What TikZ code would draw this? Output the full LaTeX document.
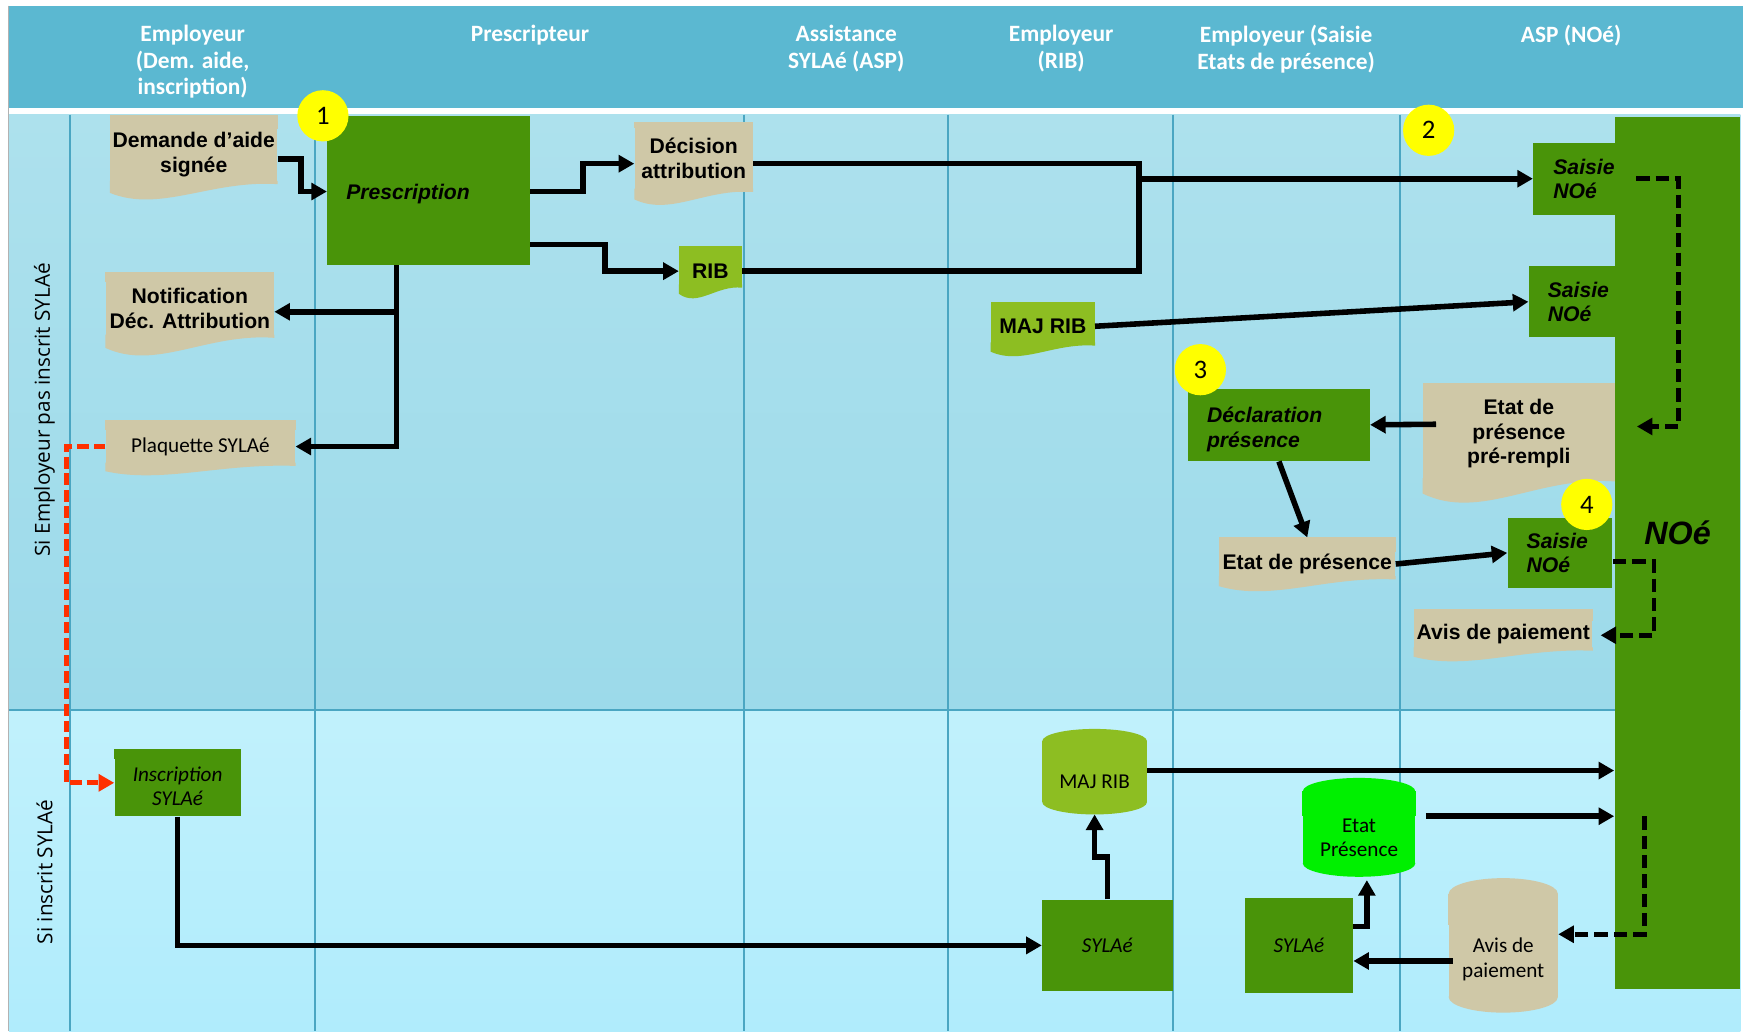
\documentclass[tikz,border=0pt]{standalone}
\usepackage{fontspec}
\setmainfont{Liberation Sans}
\newfontfamily\calibri{Carlito}
\newfontfamily\lanefont{Open Sans}
\usetikzlibrary{arrows.meta,calc}
\pgfdeclarelayer{back}
\pgfdeclarelayer{decor}
\pgfsetlayers{back,decor,main}

\definecolor{hdrblue}{RGB}{91,184,209}
\definecolor{lanetop}{RGB}{173,225,237}
\definecolor{lanemid}{RGB}{156,218,234}
\definecolor{lanebot}{RGB}{193,241,252}
\definecolor{lanelow}{RGB}{176,236,252}
\definecolor{sepline}{RGB}{74,166,194}
\definecolor{vert}{RGB}{73,148,9}
\definecolor{vertclair}{RGB}{141,190,34}
\definecolor{vertvif}{RGB}{0,240,0}
\definecolor{beige}{RGB}{207,200,167}
\definecolor{jaune}{RGB}{255,255,0}
\definecolor{rouge}{RGB}{255,48,0}

% strip of the same colour above a node
\newcommand{\topstrip}[3]{%
  \begin{pgfonlayer}{decor}
  \fill[#2] ($(#1.north west)+(0,3)$) rectangle ($(#1.north east)+(0,-#3)$);
  \end{pgfonlayer}}
% document shape: strip above the node and wavy bottom
\newcommand{\docwave}[4]{%
  \topstrip{#1}{#2}{#4}
  \begin{pgfonlayer}{decor}
  \fill[#2] ($(#1.south east)+(0,-3)$) -- ($(#1.south west)+(0,-3)$) -- ($(#1.south west)+(0,0.6*#3)$)
    .. controls ($(#1.south west)!0.3!(#1.south east)+(0,2*#3)$)
    and ($(#1.south west)!0.6!(#1.south east)+(0,-0.3*#3)$) .. (#1.south east) -- cycle;
  \end{pgfonlayer}}
% top and bottom of a cylinder
\newcommand{\cylcaps}[5]{%
  \topstrip{#1}{#2}{#5}
  \begin{pgfonlayer}{decor}
  \fill[#2] ($(#1.north)+(0,-#5)$) ellipse [x radius=#3pt, y radius=#4pt];
  \fill[#2] (#1.south) ellipse [x radius=#3pt, y radius=#4pt];
  \end{pgfonlayer}}

\tikzset{
  doc/.style={fill=#1, inner sep=0pt, align=center, font=\fontsize{9.5}{11}\selectfont\bfseries},
  doc/.default=beige,
  proc/.style={fill=vert, inner sep=0pt, align=left, font=\fontsize{9.5}{11}\selectfont\bfseries\itshape},
  sbox/.style={fill=vert, inner sep=0pt, align=center, font=\calibri\fontsize{9.5}{11}\selectfont\itshape},
  cyl/.style={fill=#1, inner sep=0pt, align=center, font=\calibri\fontsize{9.5}{11}\selectfont},
  num/.style={circle, fill=jaune, inner sep=0pt, minimum size=23pt, font=\calibri\fontsize{12}{12}\selectfont},
  hdr/.style={text=white, align=center, inner sep=0pt, anchor=north, font=\calibri\bfseries\fontsize{10.5}{12}\selectfont},
  lane/.style={rotate=90, inner sep=0pt, font=\lanefont\fontsize{9.3}{10}\selectfont},
  sep/.style={draw=sepline, line width=0.9pt},
  ln/.style={line width=2.5pt},
  arr/.style={ln, -{Triangle[length=7pt,width=7.5pt]}},
  darr/.style={arr, line width=2.2pt, dash pattern=on 6pt off 2.7pt},
  rarr/.style={arr, color=rouge, line width=2.1pt, dash pattern=on 5.2pt off 2.2pt}
}

\begin{document}
\begin{tikzpicture}[x=0.5pt, y=-0.5pt]
  \useasboundingbox (0,0) rectangle (1568,926);
  % header and lanes
  \begin{pgfonlayer}{back}
  \fill[white] (0,0) rectangle (1568,926);
  \fill[hdrblue] (8,5) rectangle (1565,97);
  \shade[top color=lanetop, bottom color=lanemid] (8,103) rectangle (1563,638);
  \shade[top color=lanebot, bottom color=lanelow] (8,638) rectangle (1563,926);
  \draw[sep] (8,638) -- (1563,638);
  \draw[gray!60] (8,5) -- (8,926);
  \foreach \x in {63,283,668,851,1053,1257}
    \draw[sep] (\x,103) -- (\x,926);
  \end{pgfonlayer}

  \node[hdr] (h1) at (173,22) {Employeur\\(Dem. aide,\\inscription)};
  \node[hdr] (h2) at (476,22) {Prescripteur};
  \node[hdr] (h3) at (760,22) {Assistance\\SYLAé (ASP)};
  \node[hdr] (h4) at (953,22) {Employeur\\(RIB)};
  \node[hdr] (h5) at (1155,22) {Employeur (Saisie\\Etats de présence)};
  \node[hdr] (h6) at (1411,22) {ASP (NOé)};

  \node[lane] (l1) at (40,368) {Si Employeur pas inscrit SYLAé};
  \node[lane] (l2) at (40,783) {Si inscrit SYLAé};

  % documents
  \node[doc, minimum width=75pt, minimum height=26pt] (demande) at (174,139) {Demande d’aide\\signée};
  \docwave{demande}{beige}{13}{9}
  \node[doc, minimum width=53pt, minimum height=30pt] (decision) at (623,142) {Décision\\attribution};
  \docwave{decision}{beige}{11}{2}
  \node[doc=vertclair, minimum width=28pt, minimum height=14.5pt] (rib) at (638,243.5) {RIB};
  \docwave{rib}{vertclair}{9}{8}
  \node[doc, minimum width=75.5pt, minimum height=26pt] (notif) at (170.5,277) {Notification\\Déc. Attribution};
  \docwave{notif}{beige}{15}{6}
  \node[doc, minimum width=85pt, minimum height=17pt, font=\calibri\fontsize{9.5}{11}\selectfont] (plaq) at (180,401) {Plaquette SYLAé};
  \docwave{plaq}{beige}{8}{6}
  \node[doc=vertclair, minimum width=46.5pt, minimum height=17pt] (majrib) at (936.5,293) {MAJ RIB};
  \docwave{majrib}{vertclair}{9}{4}
  \node[doc, minimum width=86pt, minimum height=42.5pt] (etatpre) at (1364,389.5) {Etat de\\présence\\pré-rempli};
  \docwave{etatpre}{beige}{18}{3}
  \node[doc, minimum width=79pt, minimum height=13.5pt] (etatp) at (1174,506.5) {Etat de présence};
  \docwave{etatp}{beige}{10}{10}
  \node[doc, minimum width=80pt, minimum height=14.5pt] (avis) at (1350,569.5) {Avis de paiement};
  \docwave{avis}{beige}{9}{8}

  % process boxes
  \node[proc, text width=74pt, inner xsep=8.5pt, minimum height=63.5pt] (prescr) at (385,174.5) {Prescription};
  \topstrip{prescr}{vert}{6}
  \node[proc, text width=64.5pt, inner xsep=8.5pt, minimum height=28.5pt] (decl) at (1148.5,385.5) {Déclaration\\présence};
  \topstrip{decl}{vert}{7}
  \node[fill=vert, inner sep=0pt, minimum width=56.5pt, minimum height=391.5pt, text depth=18pt,
        font=\fontsize{14.5}{16}\selectfont\bfseries\itshape] (noe) at (1506.5,496.5) {NOé};
  \node[proc, text width=28pt, inner xsep=9pt, minimum height=32.5pt] (saisie1) at (1423,160.5) {Saisie\\NOé};
  \node[proc, text width=28pt, inner xsep=8.5pt, minimum height=32pt] (saisie2) at (1418,271) {Saisie\\NOé};
  \node[proc, text width=30pt, inner xsep=8.5pt, minimum height=31.5pt] (saisie3) at (1401,496.5) {Saisie\\NOé};

  \node[sbox, minimum width=56.5pt, minimum height=27pt] (inscr) at (159.5,706) {Inscription\\SYLAé};
  \topstrip{inscr}{vert}{6}
  \node[sbox, minimum width=58.5pt, minimum height=41pt] (sylae1) at (994.5,849) {SYLAé};
  \node[sbox, minimum width=48.5pt, minimum height=43pt] (sylae2) at (1166.5,849) {SYLAé};

  % cylinders
  \node[cyl=vertclair, minimum width=47pt, minimum height=18pt] (majcyl) at (983,702) {MAJ RIB};
  \cylcaps{majcyl}{vertclair}{23.5}{5.5}{18}
  \node[cyl=vertvif, minimum width=50.5pt, minimum height=22.5pt] (etatcyl) at (1220.5,752.5) {Etat\\Présence};
  \cylcaps{etatcyl}{vertvif}{25.25}{6}{19}
  \node[cyl=beige, minimum width=49pt, minimum height=33.5pt] (aviscyl) at (1350,861.5) {Avis de\\paiement};
  \cylcaps{aviscyl}{beige}{24.5}{7}{25}

  % connectors, top lane
  \coordinate (jn) at (1023,160.5);
  \coordinate (noein) at (1470,383);
  \draw[arr] ($(demande.east)+(0,4)$) -- ++(21,0) |- ($(prescr.west)+(0,-2.5)$);
  \draw[arr] ($(prescr.east)+(0,-2.5)$) -- ++(47,0) |- ($(decision.west)+(0,5)$);
  \draw[arr] ($(prescr.south east)+(0,-19)$) -- ++(67,0) |- (rib.west);
  \draw[arr] ($(decision.east)+(0,5)$) -| (jn) -- (saisie1.west);
  \draw[ln] (rib.east) -| (jn);
  \draw[arr] ($(prescr.south)+(-29,0)$) |- ($(notif.east)+(0,3)$);
  \draw[arr] ($(prescr.south)+(-29,0)$) |- (plaq.east);
  \draw[arr] (majrib.east) -- (saisie2.west);
  \draw[darr] (saisie1.east) -- ++(38,0) |- (noein);
  \draw[arr] ($(etatpre.west)+(12,-8.5)$) -- ($(decl.east)+(0,-4)$);
  \draw[arr] (decl.south) -- ($(etatp.north)+(0,-10)$);
  \draw[arr] (etatp.east) -- (saisie3.west);
  \draw[darr] ($(saisie3.east)+(0,8)$) -- ++(37,0) |- ($(avis.east)+(7,1)$);
  \draw[rarr] (plaq.west) -- ++(-35,0) |- ($(inscr.west)+(0,-3)$);

  % connectors, bottom lane
  \coordinate (noeout) at (1477,733);
  \draw[arr] (inscr.south) |- (sylae1.west);
  \draw[arr] (sylae1.north) -- ++(0,-38) -| ($(majcyl.south)+(0,11)$);
  \draw[arr] ($(majcyl.east)+(0,-10)$) -- ($(majcyl.east -| noe.west)+(0,-10)$);
  \draw[arr] ($(etatcyl.east)+(9,-19.5)$) -- ($(etatcyl.east -| noe.west)+(0,-19.5)$);
  \draw[darr] (noeout) |- ($(aviscyl.east)+(0,-22.5)$);
  \draw[arr] ($(aviscyl.west)+(4,1.5)$) -- ($(sylae2.east)+(0,14)$);
  \draw[arr] ($(sylae2.east)+(0,-17)$) -| ($(etatcyl.south)+(7,15)$);

  % steps
  \node[num] (n1) at (290,104) {1};
  \node[num] (n2) at (1283,117) {2};
  \node[num] (n3) at (1078,332) {3};
  \node[num] (n4) at (1425,453) {4};
\end{tikzpicture}
\end{document}
